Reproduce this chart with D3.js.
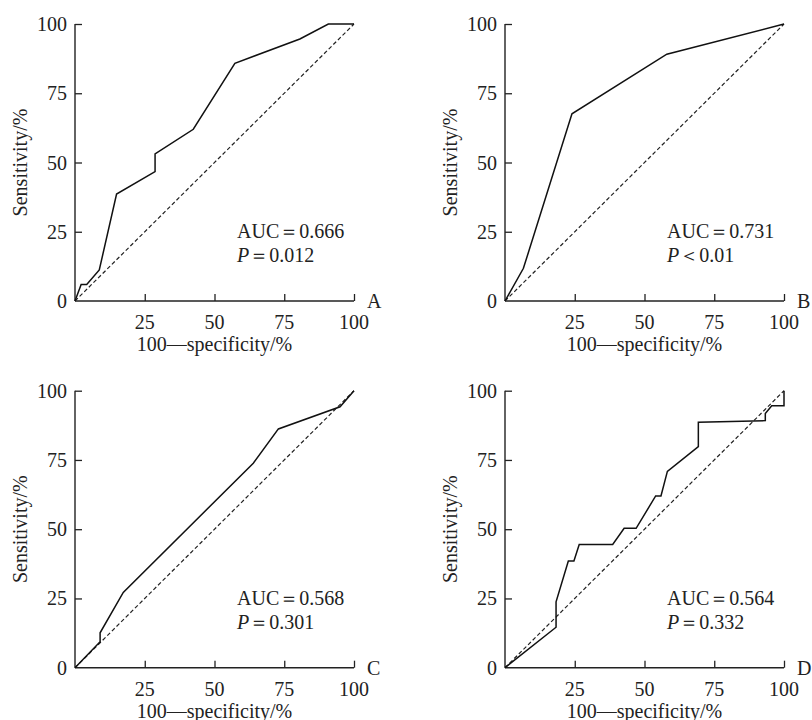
<!DOCTYPE html>
<html>
<head>
<meta charset="utf-8">
<script src="https://cdn.jsdelivr.net/npm/d3@7"></script>
<style>
  body { margin: 0; background: #fff; }
  svg text { font-family: "Liberation Serif", "Times New Roman", serif; fill: #222; }
</style>
</head>
<body>
<svg id="chart" width="812" height="720"></svg>
<script>
// ROC points (x = 100-specificity, y = sensitivity, %)
var rocA = [[0,0],[2.2,6],[4.2,6],[8.7,11.2],[14.9,38.6],[28.7,46.7],[28.7,53.1],[42.4,62],[57.3,85.8],[80.6,94.6],[90.8,100],[100,100]];
var rocB = [[0,0],[6.6,11.8],[24,67.6],[58,89.1],[100,100]];
var rocC = [[0,0],[9,9.4],[9,12.6],[17.3,27.2],[63.9,73.8],[72.9,86.2],[95,94.2],[100,100]];
var rocD = [[0,0],[18.3,14.6],[18.3,23.8],[22.7,38.5],[24.7,38.5],[26.6,44.5],[38.6,44.5],[42.7,50.3],[47,50.3],[54,62],[55.9,62],[58.2,70.9],[69.3,79.8],[69.3,88.6],[93.3,89.2],[93.3,91.8],[95.6,94.6],[100,94.6],[100,100]];

var panelNames = ["A", "B", "C", "D"];
var panelData = [rocA, rocB, rocC, rocD];
var aucLabels = ["AUC\uFF1D0.666", "AUC\uFF1D0.731", "AUC\uFF1D0.568", "AUC\uFF1D0.564"];
var pLabels = ["\uFF1D0.012", "\uFF1C0.01", "\uFF1D0.301", "\uFF1D0.332"];
var yTicks = [0, 25, 50, 75, 100];
var xTicks = [25, 50, 75, 100];

var svg = d3.select("#chart");
var pw = 279, ph = 277;
var origins = [[75, 24], [505, 24], [75, 390.7], [505, 390.7]];

panelNames.forEach(function(name, i) {
  var ox = origins[i][0], oy = origins[i][1];
  var g = svg.append("g").attr("transform", "translate(" + ox + "," + oy + ")");

  var x = d3.scaleLinear().domain([0, 100]).range([0, pw]);
  var y = d3.scaleLinear().domain([0, 100]).range([ph, 0]);

  // axes (ticks point inwards)
  g.append("g").attr("transform", "translate(0," + ph + ")")
    .call(d3.axisTop(x).tickValues(xTicks).tickSize(7).tickFormat(""));
  g.append("g")
    .call(d3.axisRight(y).tickValues(yTicks.slice(1)).tickSize(7).tickFormat(""));
  g.selectAll(".domain").remove();
  g.selectAll(".tick line").attr("stroke", "#222").attr("stroke-width", 1.3);
  g.append("line").attr("x1", 0).attr("x2", pw).attr("y1", ph).attr("y2", ph)
    .attr("stroke", "#222").attr("stroke-width", 1.4);
  g.append("line").attr("x1", 0).attr("x2", 0).attr("y1", 0).attr("y2", ph)
    .attr("stroke", "#222").attr("stroke-width", 1.4);

  // tick labels
  g.selectAll(".ylab").data(yTicks).enter().append("text")
    .attr("x", -8).attr("y", function(d) { return y(d); })
    .attr("dy", "0.35em").attr("text-anchor", "end")
    .style("font-size", "20px").text(function(d) { return d; });
  g.selectAll(".xlab").data(xTicks).enter().append("text")
    .attr("x", function(d) { return x(d); }).attr("y", ph + 28)
    .attr("text-anchor", "middle")
    .style("font-size", "20px").text(function(d) { return d; });

  // axis titles
  g.append("text").attr("x", pw / 2).attr("y", ph + 50)
    .attr("text-anchor", "middle").style("font-size", "20px")
    .text("100\u2014specificity/%");
  g.append("text")
    .attr("transform", "translate(" + (20 - ox + (i % 2 ? 430 : 0)) + "," + (ph / 2) + ") rotate(-90)")
    .attr("dy", "0.35em").attr("text-anchor", "middle").style("font-size", "20px")
    .text("Sensitivity/%");

  // panel letter
  g.append("text").attr("x", pw + 13).attr("y", ph + 7)
    .style("font-size", "20px").text(name);

  // reference diagonal
  g.append("line").attr("x1", x(0)).attr("y1", y(0)).attr("x2", x(100)).attr("y2", y(100))
    .attr("stroke", "#222").attr("stroke-width", 1.2).attr("stroke-dasharray", "4,2.5");

  // ROC curve
  var line = d3.line().x(function(d) { return x(d[0]); }).y(function(d) { return y(d[1]); });
  g.append("path").datum(panelData[i]).attr("d", line)
    .attr("fill", "none").attr("stroke", "#111").attr("stroke-width", 1.5);

  // annotations
  g.append("text").attr("x", 162).attr("y", 214).style("font-size", "20px").text(aucLabels[i]);
  var pt = g.append("text").attr("x", 162).attr("y", 238).style("font-size", "20px");
  pt.append("tspan").style("font-style", "italic").text("P");
  pt.append("tspan").text(pLabels[i]);
});
</script>
</body>
</html>
